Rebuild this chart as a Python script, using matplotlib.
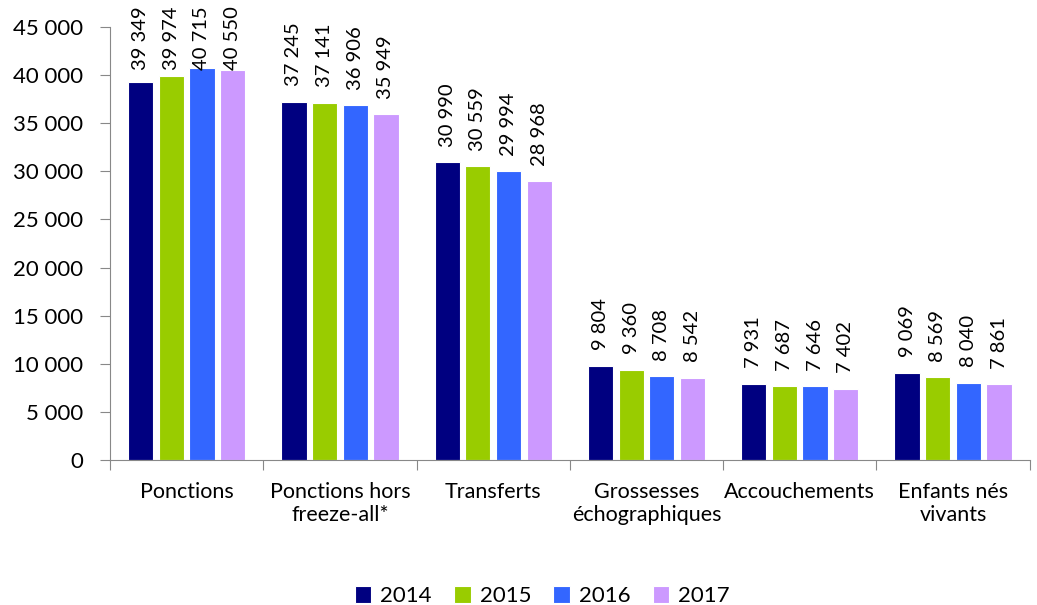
import numpy as np
import matplotlib
matplotlib.use("Agg")
from matplotlib import pyplot as plt
from matplotlib.ticker import FuncFormatter

categories = ["Ponctions", "Ponctions hors\nfreeze-all*", "Transferts",
              "Grossesses\néchographiques", "Accouchements", "Enfants nés\nvivants"]
years = ["2014", "2015", "2016", "2017"]
v2014 = [39349, 37245, 30990, 9804, 7931, 9069]
v2015 = [39974, 37141, 30559, 9360, 7687, 8569]
v2016 = [40715, 36906, 29994, 8708, 7646, 8040]
v2017 = [40550, 35949, 28968, 8542, 7402, 7861]
colors = ["#000080", "#99CC00", "#3366FF", "#CC99FF"]

plt.rcParams["font.family"] = ["Lato", "DejaVu Sans"]

fig = plt.figure(figsize=(10.37, 6.05), dpi=100)
ax = fig.add_axes([0.106, 0.24, 0.887, 0.715])


def fmt(v):
    return f"{int(v):,}".replace(",", " ")


n = len(categories)
x = np.arange(n)
bw = 0.165
step = 0.2
series = [v2014, v2015, v2016, v2017]
for i, (vals, col, yr) in enumerate(zip(series, colors, years)):
    pos = x + (i - 1.5) * step
    ax.bar(pos, vals, width=bw, color=col, edgecolor="white", linewidth=0.8, label=yr)
    for p, v in zip(pos, vals):
        # labels pushed down so they stay near the plot top, like the original
        ax.text(p, min(v + 1600, 40500), fmt(v), rotation=90, ha="center",
                va="bottom", fontsize=14.5)

ax.set_xlim(-0.5, n - 0.5)
ax.set_ylim(0, 45000)
ax.set_yticks(np.arange(0, 45001, 5000))
ax.yaxis.set_major_formatter(FuncFormatter(lambda v, p: fmt(v)))
ax.tick_params(axis="y", labelsize=16, length=7, pad=12, color="#888888")
ax.set_xticks(np.arange(-0.5, n, 1.0))
ax.set_xticklabels([])
ax.set_xticks(x, minor=True)
ax.set_xticklabels(categories, minor=True, fontsize=15.5)
ax.tick_params(axis="x", which="major", length=7, color="#888888")
ax.tick_params(axis="x", which="minor", length=0, pad=16)
for s in ["top", "right"]:
    ax.spines[s].set_visible(False)
for s in ["left", "bottom"]:
    ax.spines[s].set_color("#888888")

ax.legend(loc="lower center", bbox_to_anchor=(0.47, -0.385), ncol=4, frameon=False,
          fontsize=16, handlelength=0.75, handleheight=0.75, columnspacing=1.0,
          handletextpad=0.4)

fig.savefig("out.png", dpi=100)
